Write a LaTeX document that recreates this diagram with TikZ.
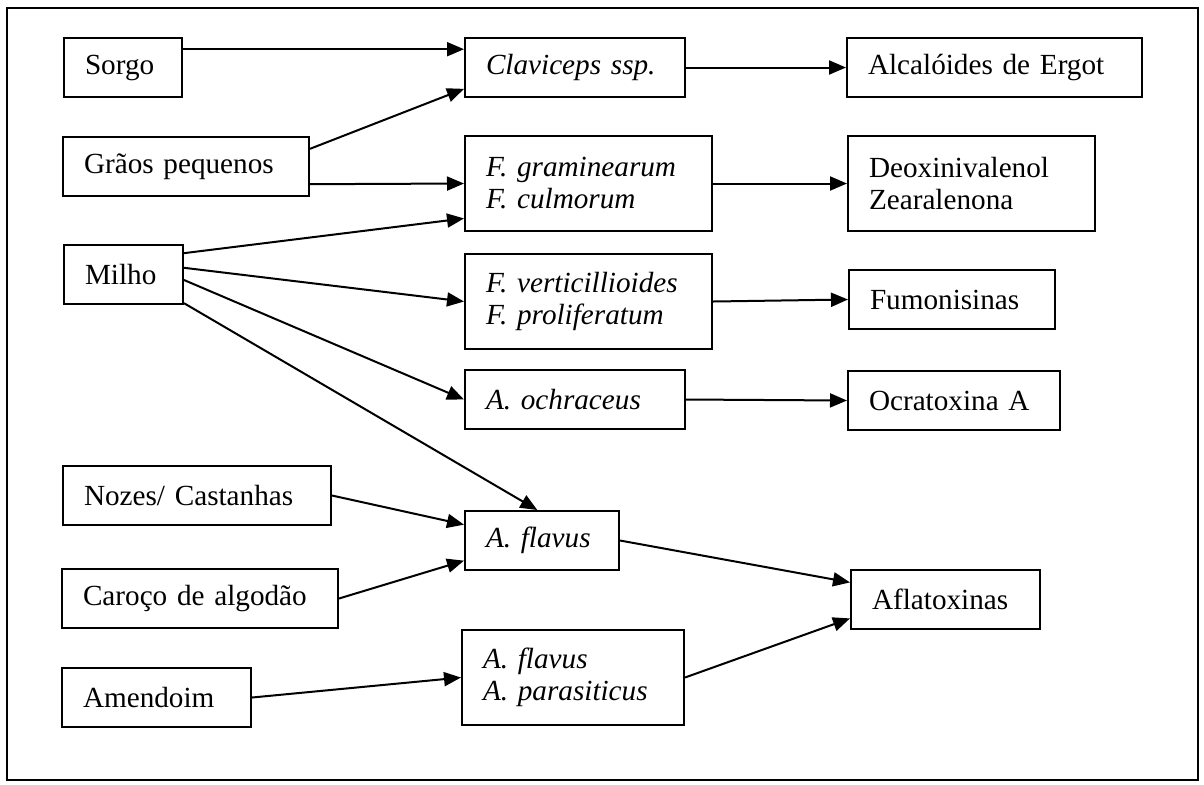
\documentclass[tikz,border=0pt]{standalone}
\usepackage{fontspec}
\setmainfont{Liberation Serif}
\usetikzlibrary{arrows.meta,calc}
\newcommand\boxfont{\fontsize{14.6}{16}\selectfont}
\tikzset{
  box/.style={draw, line width=1pt, anchor=north west, inner xsep=10.5pt,
    inner ysep=0pt, align=left, minimum height=29.5pt},
  tallbox/.style={box, minimum height=47.5pt},
  fungus/.style={font=\boxfont\itshape},
  arr/.style={-{Triangle[length=8.5pt,width=7pt]}, line width=1pt}
}
\begin{document}
\begin{tikzpicture}[x=0.5pt, y=-0.5pt, font=\boxfont]
  \useasboundingbox (0,0) rectangle (1204,784);
  \draw[line width=1.3pt] (7,8) rectangle (1198,780);
  % crops
  \node[box, text width=38pt] (sorgo) at (63,37) {Sorgo};
  \node[box, text width=102pt] (graos) at (62,136) {Grãos pequenos};
  \node[box, text width=38.5pt] (milho) at (63,244) {Milho};
  \node[box, text width=113pt] (nozes) at (62,465) {Nozes/ Castanhas};
  \node[box, text width=117pt] (caroco) at (61,568) {Caroço de algodão};
  \node[box, text width=73.5pt] (amendoim) at (61,667) {Amendoim};
  % fungi
  \node[box, fungus, text width=89pt] (clav) at (464,37) {Claviceps ssp.};
  \node[tallbox, fungus, text width=102.5pt] (fgram) at (464,135) {F. graminearum\\F. culmorum};
  \node[tallbox, fungus, text width=102.5pt] (fvert) at (464,253) {F. verticillioides\\F. proliferatum};
  \node[box, fungus, text width=89pt] (aochr) at (464,369) {A. ochraceus};
  \node[box, fungus, text width=56pt] (aflav) at (464,510) {A. flavus};
  \node[tallbox, fungus, text width=90pt] (aparas) at (461,629) {A. flavus\\A. parasiticus};
  % toxins
  \node[box, text width=126.5pt] (alcal) at (846,37) {Alcalóides de Ergot};
  \node[tallbox, text width=102.5pt] (deox) at (847,135) {Deoxinivalenol\\Zearalenona};
  \node[box, text width=82pt] (fumon) at (848,269) {Fumonisinas};
  \node[box, text width=85pt] (ocrat) at (847,370) {Ocratoxina A};
  \node[box, text width=73.5pt] (aflat) at (850,569) {Aflatoxinas};
  % crops to fungi
  \draw[arr] ($(sorgo.north east)!.2!(sorgo.south east)$) -- ($(clav.north west)!.2!(clav.south west)$);
  \draw[arr] ($(graos.north east)!.21!(graos.south east)$) -- ($(clav.north west)!.85!(clav.south west)$);
  \draw[arr] ($(graos.north east)!.79!(graos.south east)$) -- (fgram.west);
  \draw[arr] ($(milho.north east)!.15!(milho.south east)$) -- ($(fgram.north west)!.86!(fgram.south west)$);
  \draw[arr] ($(milho.north east)!.39!(milho.south east)$) -- (fvert.west);
  \draw[arr] ($(milho.north east)!.59!(milho.south east)$) -- (aochr.west);
  \draw[arr] ($(milho.north east)!.97!(milho.south east)$) -- ($(aflav.north west)!.47!(aflav.north east)$);
  \draw[arr] (nozes.east) -- ($(aflav.north west)!.24!(aflav.south west)$);
  \draw[arr] (caroco.east) -- ($(aflav.north west)!.83!(aflav.south west)$);
  \draw[arr] (amendoim.east) -- (aparas.west);
  % fungi to toxins
  \draw[arr] (clav.east) -- (alcal.west);
  \draw[arr] (fgram.east) -- (deox.west);
  \draw[arr] (fvert.east) -- (fumon.west);
  \draw[arr] (aochr.east) -- (ocrat.west);
  \draw[arr] (aflav.east) -- ($(aflat.north west)!.22!(aflat.south west)$);
  \draw[arr] (aparas.east) -- ($(aflat.north west)!.81!(aflat.south west)$);
\end{tikzpicture}
\end{document}
